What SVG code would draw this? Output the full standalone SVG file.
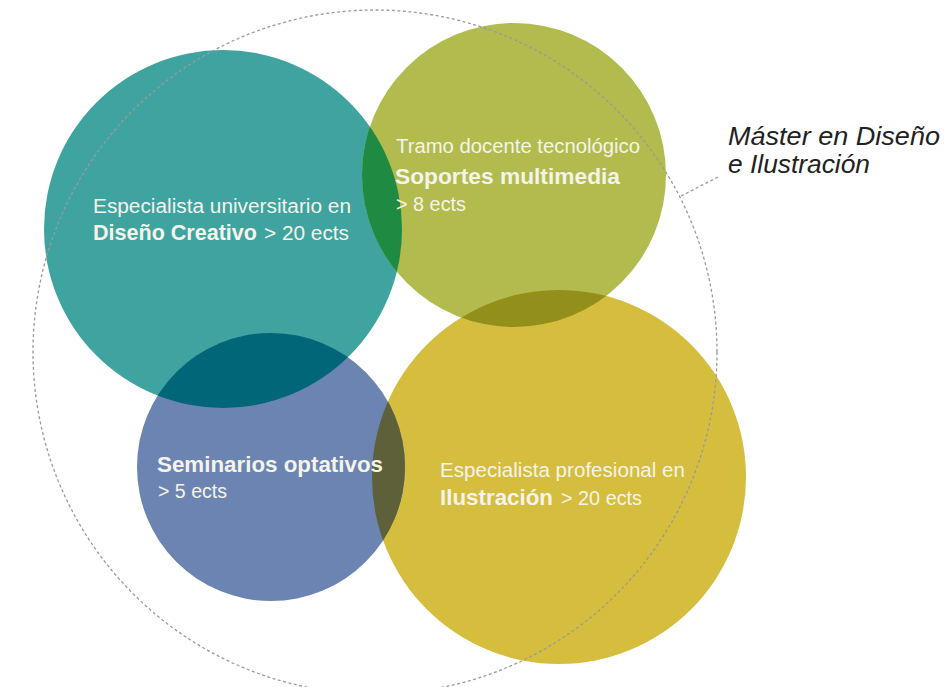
<svg xmlns="http://www.w3.org/2000/svg" width="944" height="687" viewBox="0 0 944 687">
<style>
.t{font-family:"Liberation Sans","DejaVu Sans",sans-serif;fill:#f4f4ea;font-size:20px}
.b{font-weight:bold;font-size:22px}
.lbl{font-family:"Liberation Sans","DejaVu Sans",sans-serif;font-style:italic;font-size:26px;fill:#222}
.dash{fill:none;stroke:#9a9a9a;stroke-width:1.3;stroke-dasharray:3 2.5}
</style>
<defs>
<clipPath id="cTeal"><circle cx="223" cy="229" r="179"/></clipPath>
<clipPath id="cOlive"><circle cx="514" cy="175" r="152"/></clipPath>
<clipPath id="cYellow"><circle cx="559" cy="477" r="187"/></clipPath>
<clipPath id="cBlue"><circle cx="271" cy="467" r="134"/></clipPath>
</defs>
<rect width="944" height="687" fill="#fff"/>
<g id="teal"><circle cx="223" cy="229" r="179" fill="#3fa39f"/></g>
<g id="olive"><circle cx="514" cy="175" r="152" fill="#b2bb4e"/></g>
<g id="yellow"><circle cx="559" cy="477" r="187" fill="#d5bd3e"/></g>
<g id="blue"><circle cx="271" cy="467" r="134" fill="#6c84b2"/></g>
<g id="overlaps">
<circle cx="514" cy="175" r="152" fill="#1f8a42" clip-path="url(#cTeal)"/>
<circle cx="271" cy="467" r="134" fill="#006678" clip-path="url(#cTeal)"/>
<circle cx="559" cy="477" r="187" fill="#938f1b" clip-path="url(#cOlive)"/>
<circle cx="559" cy="477" r="187" fill="#5e603a" clip-path="url(#cBlue)"/>
</g>
<g id="master">
<circle class="dash" cx="375" cy="352" r="342"/>
<text class="lbl" x="728" y="145" textLength="212" lengthAdjust="spacingAndGlyphs">Máster en Diseño</text>
<text class="lbl" x="728" y="173" textLength="142" lengthAdjust="spacingAndGlyphs">e Ilustración</text>
</g>
<g id="connectors">
<line class="dash" x1="681" y1="196" x2="718" y2="177"/>
</g>
<g id="t-teal">
<text class="t" x="93" y="213" textLength="258" lengthAdjust="spacingAndGlyphs">Especialista universitario en</text>
<text class="t b" x="93" y="240" textLength="164" lengthAdjust="spacingAndGlyphs">Diseño Creativo</text>
<text class="t" x="264" y="240" textLength="85" lengthAdjust="spacingAndGlyphs">&gt; 20 ects</text>
</g>
<g id="t-olive">
<text class="t" x="396" y="153" textLength="244" lengthAdjust="spacingAndGlyphs">Tramo docente tecnológico</text>
<text class="t b" x="395" y="184" textLength="225" lengthAdjust="spacingAndGlyphs">Soportes multimedia</text>
<text class="t" x="396" y="211" textLength="70" lengthAdjust="spacingAndGlyphs">&gt; 8 ects</text>
</g>
<g id="t-blue">
<text class="t b" x="157" y="472" textLength="226" lengthAdjust="spacingAndGlyphs">Seminarios optativos</text>
<text class="t" x="158" y="498" textLength="69" lengthAdjust="spacingAndGlyphs">&gt; 5 ects</text>
</g>
<g id="t-yellow">
<text class="t" x="440" y="477" textLength="245" lengthAdjust="spacingAndGlyphs">Especialista profesional en</text>
<text class="t b" x="440" y="505" textLength="113" lengthAdjust="spacingAndGlyphs">Ilustración</text>
<text class="t" x="561" y="505" textLength="81" lengthAdjust="spacingAndGlyphs">&gt; 20 ects</text>
</g>
</svg>
